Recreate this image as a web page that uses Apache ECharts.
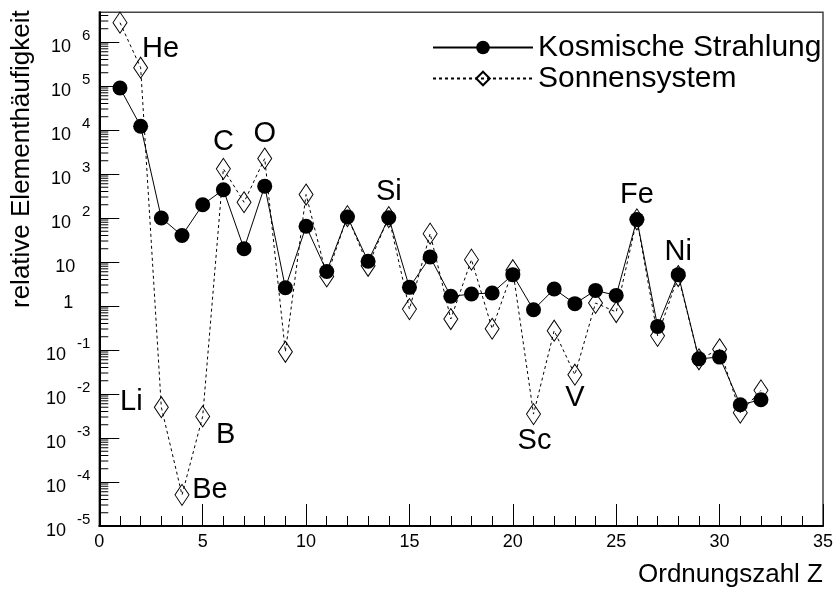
<!DOCTYPE html>
<html>
<head>
<meta charset="utf-8">
<script src="https://cdn.jsdelivr.net/npm/echarts@6/dist/echarts.min.js"></script>
<style>html,body{margin:0;padding:0;background:#fff;}#c{width:836px;height:589px;}</style>
</head>
<body>
<div id="c"></div>
<script>
// ---- data ----
const ordnungszahl = [1,2,3,4,5,6,7,8,9,10,11,12,13,14,15,16,17,18,19,20,21,22,23,24,25,26,27,28,29,30,31,32];
const kosmischeStrahlung = [9.0e4, 1.22e4, 100, 40, 200, 440, 20, 530, 2.6, 65, 6.1, 106, 10.4, 101, 2.65, 13, 1.66, 1.87, 1.98, 5.15, 0.82, 2.43, 1.13, 2.26, 1.74, 92, 0.344, 5.15, 0.063, 0.069, 5.7e-3, 7.4e-3];
const sonnensystem = [2.75e6, 2.6e5, 5.0e-3, 5.1e-5, 3.1e-3, 1.31e3, 228, 2.25e3, 0.091, 341, 4.7, 110, 8.2, 105, 0.85, 44, 0.506, 11.3, 0.304, 6.5, 3.5e-3, 0.274, 0.0274, 1.17, 0.73, 93, 0.21, 4.8, 0.0615, 0.104, 3.77e-3, 0.0121];
const elementNames  = ['He','Li','Be','B','C','O','Si','Sc','V','Fe','Ni'];
const elementZ      = [2, 3, 4, 5, 6, 8, 14, 21, 23, 26, 28];
const elementSeries = ['solar','solar','solar','solar','solar','solar','cosmic','solar','solar','cosmic','cosmic'];
const seriesNames = ['Kosmische Strahlung', 'Sonnensystem'];
const yTickValues = [1e-5, 1e-4, 1e-3, 1e-2, 1e-1, 1, 10, 1e2, 1e3, 1e4, 1e5, 1e6];
const xAxisTitle = 'Ordnungszahl Z';
const yAxisTitle = 'relative Elementhäufigkeit';
const yMin = 1e-5, yMax = 4.73e6;

// ---- styles ----
const FONT = '"Liberation Sans", Arial, Helvetica, sans-serif';
const labelOffset = {He:[20,-19], Li:[-30,-5], Be:[28,-5], B:[23,19], C:[0,-27], O:[0,-24], Si:[0,-26], Sc:[1,27], V:[0,23], Fe:[0,-25], Ni:[0,-23]};

function buildData(values, key) {
  return ordnungszahl.map((z, i) => {
    const item = { value: [z, values[i]] };
    const k = elementZ.findIndex((ez, j) => ez === z && elementSeries[j] === key);
    if (k >= 0) {
      const nm = elementNames[k];
      item.label = { show: true, position: 'inside', formatter: nm, offset: labelOffset[nm],
        color: '#000', fontSize: 29, fontFamily: FONT };
    }
    return item;
  });
}

// minor ticks of the log axis (2..9 x 10^n)
const minorTicks = [];
for (let n = -5; n <= 6; n++) for (let k = 2; k <= 9; k++) { const v = k * Math.pow(10, n); if (v < yMax) minorTicks.push([0, v]); }

const chart = echarts.init(document.getElementById('c'));
chart.setOption({
  backgroundColor: '#fff',
  animation: false,
  grid: { left: 99.3, right: 8.7, top: 12.3, bottom: 63, show: true, borderColor: '#444', borderWidth: 1.5, backgroundColor: 'transparent' },
  legend: {
    orient: 'vertical', left: 432, top: 32.5, padding: 0, itemWidth: 100, itemHeight: 17, itemGap: 1,
    selectedMode: false,
    data: seriesNames,
    textStyle: { fontSize: 30, fontFamily: FONT, color: '#000', lineHeight: 27 }
  },
  xAxis: {
    type: 'value', min: 0, max: 35, interval: 5,
    name: xAxisTitle, nameLocation: 'end', nameGap: 0,
    nameTextStyle: { fontSize: 26, fontFamily: FONT, color: '#000', align: 'right', verticalAlign: 'top', padding: [36, 0, 0, 0] },
    axisLine: { show: true, onZero: false, lineStyle: { color: '#000', width: 2 } },
    axisTick: { show: true, inside: true, length: 22, lineStyle: { color: '#000', width: 1 } },
    minorTick: { show: true, splitNumber: 5, length: 10, lineStyle: { color: '#000', width: 1 } },
    axisLabel: { fontSize: 18, fontFamily: FONT, color: '#000', margin: 7 },
    splitLine: { show: false }
  },
  yAxis: {
    type: 'log', logBase: 10, min: yMin, max: yMax, interval: 1,
    name: yAxisTitle, nameLocation: 'middle', nameGap: 62, nameRotate: 90,
    nameTextStyle: { fontSize: 26, fontFamily: FONT, color: '#000', padding: [0, 0, 0, 220] },
    axisLine: { show: true, onZero: false, lineStyle: { color: '#000', width: 2 } },
    axisTick: { show: true, inside: true, length: 20, customValues: yTickValues, lineStyle: { color: '#000', width: 1 } },
    splitLine: { show: false },
    axisLabel: {
      customValues: yTickValues,
      margin: 9, color: '#000', fontFamily: FONT, fontSize: 18, lineHeight: 28, padding: [0, 0, 0, 0],
      formatter: function (v) {
        const lg = Math.log10(v); const n = Math.round(lg);
        if (Math.abs(lg - n) > 0.01) return '';
        if (n === 0) return '{one|1}';
        if (n === 1) return '{ten|10}';
        return '{b|10}{s|' + n + '}';
      },
      rich: {
        b: { fontSize: 18, fontFamily: FONT, color: '#000', lineHeight: 28, verticalAlign: 'bottom' },
        ten: { fontSize: 18, fontFamily: FONT, color: '#000', lineHeight: 28, verticalAlign: 'bottom', padding: [0, 15, 0, 0] },
        one: { fontSize: 18, fontFamily: FONT, color: '#000', lineHeight: 28, verticalAlign: 'middle', padding: [0, 17, 6, 0] },
        s: { fontSize: 15, fontFamily: FONT, color: '#000', lineHeight: 28, verticalAlign: 'top', padding: [0, 0, 0, 11] }
      }
    }
  },
  series: [
    {
      name: 'ticks', type: 'custom', silent: true, clip: false, z: 1,
      data: minorTicks,
      renderItem: function (params, api) {
        const p = api.coord([0, api.value(1)]);
        return { type: 'line', shape: { x1: p[0], y1: p[1], x2: p[0] + 9, y2: p[1] }, style: { stroke: '#000', lineWidth: 1 } };
      }
    },
    {
      name: seriesNames[1], type: 'line', z: 2,
      data: buildData(sonnensystem, 'solar'),
      symbol: 'diamond', symbolSize: [14, 21],
      itemStyle: { color: 'rgba(255,255,255,0)', borderColor: '#000', borderWidth: 1 },
      lineStyle: { color: '#000', width: 1, type: [3, 3] },
      emphasis: { disabled: true }
    },
    {
      name: seriesNames[0], type: 'line', z: 3,
      data: buildData(kosmischeStrahlung, 'cosmic'),
      symbol: 'circle', symbolSize: 15,
      itemStyle: { color: '#000' },
      lineStyle: { color: '#000', width: 1 },
      emphasis: { disabled: true }
    }
  ]
});
</script>
</body>
</html>
